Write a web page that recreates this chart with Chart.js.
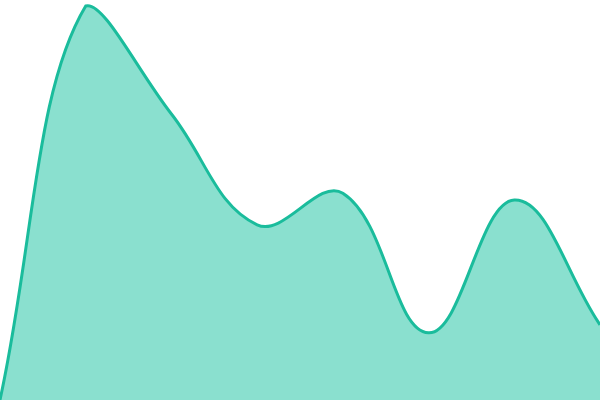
<!DOCTYPE html>
<html>
<head>
<meta charset="utf-8">
<script src="https://cdn.jsdelivr.net/npm/chart.js@4"></script>
<style>
html, body { margin: 0; padding: 0; background: #fff; }
#wrap { width: 600px; height: 400px; }
</style>
</head>
<body>
<div id="wrap"><canvas id="grafico" width="600" height="400"></canvas></div>
<script>
var labels = ['1', '2', '3', '4', '5', '6', '7', '8'];
var valores = [0, 98.5, 71.5, 43.8, 51.7, 16.8, 50, 18.8];

var canvas = document.getElementById('grafico');

var grafico = new Chart(canvas, {
	type: 'line',
	data: {
		labels: labels,
		datasets: [{
			data: valores,
			fill: 'origin',
			backgroundColor: '#8ae0cf',
			borderColor: '#1abc9c',
			borderWidth: 3,
			tension: 0.4,
			pointRadius: 0
		}]
	},
	options: {
		responsive: false,
		animation: false,
		layout: { padding: 0 },
		plugins: {
			legend: { display: false },
			tooltip: { enabled: false }
		},
		scales: {
			x: { display: false, offset: false },
			y: { display: false, min: 0, max: 100 }
		}
	}
});
</script>
</body>
</html>
